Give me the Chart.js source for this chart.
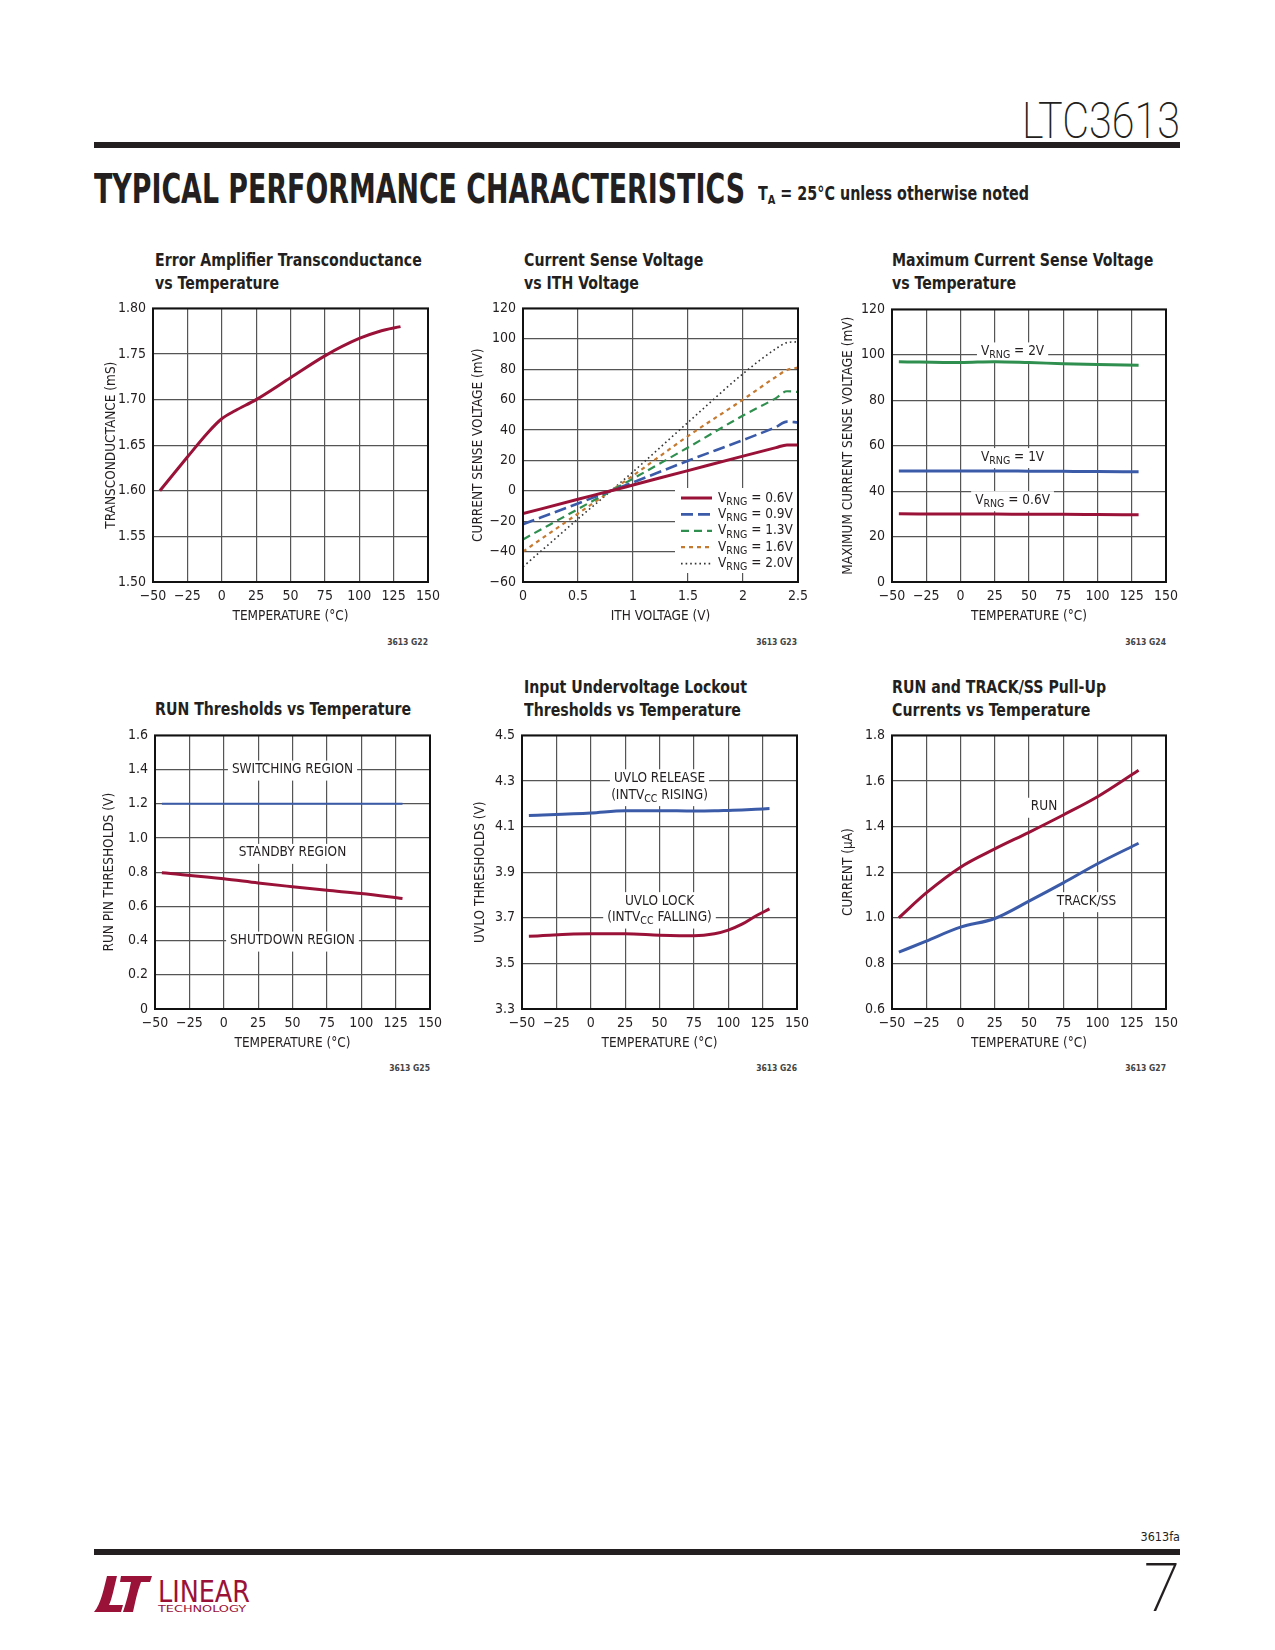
<!DOCTYPE html>
<html>
<head>
<meta charset="utf-8">
<title>LTC3613 Typical Performance Characteristics</title>
<script src="https://cdn.jsdelivr.net/npm/chart.js@4.4.1/dist/chart.umd.min.js"></script>
<style>
  body { margin: 0; background: #fff; }
  #page { position: relative; width: 1275px; height: 1650px; overflow: hidden;
          font-family: "Liberation Sans Narrow", "DejaVu Sans Condensed", sans-serif; color: #231f20; }
  .abs { position: absolute; white-space: nowrap; }
  .rule { position: absolute; left: 94px; width: 1086px; height: 6px; background: #231f20; }
  .ctitle { position: absolute; font-weight: bold; font-size: 18.5px; line-height: 23px; white-space: nowrap;
            transform: scaleX(0.85); transform-origin: left top; }
  .gid { position: absolute; font-size: 8.5px; font-weight: bold; line-height: 10px; white-space: nowrap; color: #444; }
  canvas { position: absolute; }
</style>
</head>
<body>
<div id="page">
  <div class="abs" id="partno" style="right:95px; top:96px; font-family:'DejaVu Sans ExtraLight',Roboto; font-weight:200; font-size:50px; line-height:50px; transform-origin:right center;">LTC3613</div>
  <div class="rule" style="top:142px;"></div>
  <div class="abs" id="heading" style="left:94px; top:169px; font-family:'DejaVu Sans Condensed','DejaVu Sans'; font-weight:bold; font-size:40px; line-height:40px; transform-origin:left center;">TYPICAL PERFORMANCE CHARACTERISTICS</div>
  <div class="abs" id="subhead" style="left:758px; top:184px; font-weight:bold; font-size:19px; line-height:19px; transform-origin:left center;">T<sub style="font-size:13px; vertical-align:-4px;">A</sub> = 25°C unless otherwise noted</div>

  <div class="ctitle" style="left:155px; top:248px;">Error Amplifier Transconductance<br>vs Temperature</div>
  <div class="ctitle" style="left:524px; top:248px;">Current Sense Voltage<br>vs ITH Voltage</div>
  <div class="ctitle" style="left:892px; top:248px;">Maximum Current Sense Voltage<br>vs Temperature</div>
  <div class="ctitle" style="left:155px; top:697px;">RUN Thresholds vs Temperature</div>
  <div class="ctitle" style="left:524px; top:675px;">Input Undervoltage Lockout<br>Thresholds vs Temperature</div>
  <div class="ctitle" style="left:892px; top:675px;">RUN and TRACK/SS Pull-Up<br>Currents vs Temperature</div>

  <canvas id="g22"></canvas>
  <canvas id="g23"></canvas>
  <canvas id="g24"></canvas>
  <canvas id="g25"></canvas>
  <canvas id="g26"></canvas>
  <canvas id="g27"></canvas>

  <div class="gid" style="right:847px; top:637px;">3613 G22</div>
  <div class="gid" style="right:478px; top:637px;">3613 G23</div>
  <div class="gid" style="right:109px; top:637px;">3613 G24</div>
  <div class="gid" style="right:845px; top:1063px;">3613 G25</div>
  <div class="gid" style="right:478px; top:1063px;">3613 G26</div>
  <div class="gid" style="right:109px; top:1063px;">3613 G27</div>

  <div class="abs" style="right:95px; top:1530px; font-size:12.5px; line-height:14px;">3613fa</div>
  <div class="rule" style="top:1549px;"></div>
  <div class="abs" style="right:95px; top:1556px; font-family:'DejaVu Sans ExtraLight',Roboto; font-weight:200; font-size:66px; line-height:66px;">7</div>
  <svg class="abs" style="left:92px; top:1574px;" width="175" height="40" viewBox="0 0 175 40">
    <path d="M2 38 C9 30 12 14 15 2 L25 2 C22 14 20 25 17 31 L31 31 L29 38 Z" fill="#9b1239"/>
    <path d="M29 2 L60 2 L58 8 L49 8 C45 18 43 29 41 38 L31 38 C34 29 37 18 39 8 L28 8 Z" fill="#9b1239"/>
    <text x="66" y="28" font-family="Liberation Sans Narrow, DejaVu Sans Condensed" font-size="31" fill="#9b1239" textLength="92" lengthAdjust="spacingAndGlyphs">LINEAR</text>
    <text x="66" y="38" font-family="Liberation Sans Narrow, DejaVu Sans Condensed" font-size="9.5" fill="#9b1239" textLength="88" lengthAdjust="spacingAndGlyphs">TECHNOLOGY</text>
  </svg>
</div>

<script>
// ---- values ----

// G22: error amplifier transconductance (mS) vs temperature
const gmTemp  = [-45, -25, -10, 0, 10, 25, 50, 75, 100, 115, 130];
const gmValue = [1.600, 1.637, 1.664, 1.679, 1.688, 1.700, 1.724, 1.748, 1.767, 1.775, 1.780];

// G23: current sense voltage (mV) vs ITH voltage
const ithVolts = [0, 0.5, 0.8, 1.0, 1.5, 2.0, 2.3, 2.4, 2.5];
const sense06V = [-15, -5.6, 0, 3.8, 13.3, 22.8, 28.4, 30.2, 30.2];
const sense09V = [-22, -8.3, 0, 5.5, 19.8, 33.4, 42, 45.5, 45];
const sense13V = [-32, -12, 0, 8, 28.5, 49.5, 61, 65.5, 65];
const sense16V = [-40, -15, 0, 10, 36, 60, 75, 79.5, 81];
const sense20V = [-50, -18.5, 0, 12.5, 45, 77, 93.5, 97.5, 98];
const senseLabels = ['0.6V', '0.9V', '1.3V', '1.6V', '2.0V'];

// G24: maximum current sense voltage (mV) vs temperature
const maxTemp = [-45, 0, 25, 50, 75, 100, 130];
const max2V   = [97.0, 96.6, 97.0, 96.6, 96.1, 95.7, 95.4];
const max1V   = [48.9, 48.9, 48.9, 48.8, 48.7, 48.6, 48.5];
const max06V  = [30.0, 29.9, 29.9, 29.8, 29.8, 29.7, 29.6];

// G25: RUN pin thresholds (V)
const runTemp = [-45, 0, 25, 50, 75, 100, 130];
const runOn   = [1.2, 1.2, 1.2, 1.2, 1.2, 1.2, 1.2];
const runOff  = [0.797, 0.762, 0.737, 0.715, 0.694, 0.675, 0.646];

// G26: UVLO thresholds (V)
const uvloTemp    = [-45, 0, 25, 50, 75, 90, 100, 110, 120, 130];
const uvloRelease = [4.149, 4.160, 4.170, 4.170, 4.168, 4.169, 4.171, 4.173, 4.176, 4.179];
const uvloLock    = [3.619, 3.630, 3.630, 3.624, 3.621, 3.630, 3.646, 3.672, 3.708, 3.739];

// G27: pull-up currents (uA)
const pullTemp     = [-45, -25, 0, 25, 50, 75, 100, 130];
const runCurrent   = [1.000, 1.109, 1.222, 1.302, 1.375, 1.451, 1.531, 1.647];
const trackCurrent = [0.849, 0.898, 0.959, 0.997, 1.073, 1.153, 1.237, 1.327];

// tick labels
const tempTicks  = [-50, -25, 0, 25, 50, 75, 100, 125, 150];
const gmTicks    = [1.50, 1.55, 1.60, 1.65, 1.70, 1.75, 1.80];
const ithTicks   = [0, 0.5, 1, 1.5, 2, 2.5];
const senseTicks = [-60, -40, -20, 0, 20, 40, 60, 80, 100, 120];
const maxTicks   = [0, 20, 40, 60, 80, 100, 120];
const runTicks   = [0, 0.2, 0.4, 0.6, 0.8, 1.0, 1.2, 1.4, 1.6];
const uvloTicks  = [3.3, 3.5, 3.7, 3.9, 4.1, 4.3, 4.5];
const pullTicks  = [0.6, 0.8, 1.0, 1.2, 1.4, 1.6, 1.8];

// ---- styling ----
const FONT = '"Liberation Sans Narrow", "DejaVu Sans Condensed", sans-serif';
const INK = '#231f20';
const GRID = '#555555';
const RED = '#9b1239';
const BLUE = '#3b5ba9';
const GREEN = '#2f8f4e';
const ORANGE = '#c57a32';
const DOTS = '#333333';

const minus = s => String(s).replace('-', '\u2212');
const intFmt = v => minus(Math.round(v));
const fix1 = v => v === 0 ? '0' : v.toFixed(1);

function pts(xs, ys) {
    return xs.map((x, i) => ({ x: x, y: ys[i] }));
}

function fontStr(size) {
    return size + 'px ' + FONT;
}

// text with subscripts: parts = [[text, isSub], ...]
function richWidth(ctx, parts, size) {
    let w = 0;
    for (const [t, sub] of parts) {
        ctx.font = fontStr(sub ? size * 0.78 : size);
        w += ctx.measureText(t).width;
    }
    return w;
}

function drawRich(ctx, parts, x, y, size, align) {
    const w = richWidth(ctx, parts, size);
    let cx = align === 'left' ? x : x - w / 2;
    ctx.textAlign = 'left';
    ctx.textBaseline = 'middle';
    for (const [t, sub] of parts) {
        ctx.font = fontStr(sub ? size * 0.78 : size);
        ctx.fillText(t, cx, sub ? y + size * 0.3 : y);
        cx += ctx.measureText(t).width;
    }
}

const framePlugin = {
    id: 'frame',
    afterDraw(chart) {
        const { ctx, chartArea: a } = chart;
        ctx.save();
        ctx.strokeStyle = '#111';
        ctx.lineWidth = 2;
        ctx.strokeRect(a.left, a.top, a.right - a.left, a.bottom - a.top);
        ctx.restore();
    }
};

// curve labels, placed in data units, white box behind them
function notesPlugin(notes) {
    return {
        id: 'notes',
        beforeDatasetsDraw(chart) {
            const ctx = chart.ctx, sx = chart.scales.x, sy = chart.scales.y;
            ctx.save();
            for (const n of notes) {
                const px = sx.getPixelForValue(n.x), py = sy.getPixelForValue(n.y);
                const w = richWidth(ctx, n.text, 13.5);
                ctx.fillStyle = '#fff';
                ctx.fillRect(px - w / 2 - 4, py - 9, w + 8, 20);
                ctx.fillStyle = INK;
                drawRich(ctx, n.text, px, py, 13.5);
            }
            ctx.restore();
        }
    };
}

const senseLegend = {
    id: 'senseLegend',
    afterDatasetsDraw(chart) {
        const { ctx, chartArea: a } = chart;
        const left = a.right - 123, top = a.bottom - 94;
        ctx.save();
        ctx.fillStyle = '#fff';
        ctx.fillRect(left, top, 123, 85);
        chart.data.datasets.forEach((ds, i) => {
            const y = top + 10 + i * 16.4;
            ctx.strokeStyle = ds.borderColor;
            ctx.lineWidth = ds.borderWidth;
            ctx.setLineDash(ds.borderDash || []);
            ctx.beginPath();
            ctx.moveTo(left + 6, y);
            ctx.lineTo(left + 37, y);
            ctx.stroke();
            ctx.setLineDash([]);
            ctx.fillStyle = INK;
            drawRich(ctx, [['V'], ['RNG', true], [' = ' + senseLabels[i]]], left + 43, y, 13.5, 'left');
        });
        ctx.restore();
    }
};

function axis(ticks, fmt, title, dir, size) {
    return {
        type: 'linear',
        min: ticks[0],
        max: ticks[ticks.length - 1],
        afterBuildTicks: s => { s.ticks = ticks.map(v => ({ value: v })); },
        afterFit: s => { if (dir === 'x') s.height = size; else s.width = size; },
        grid: { color: GRID, lineWidth: 1.2, drawTicks: false },
        border: { display: false },
        ticks: {
            color: INK,
            font: { family: FONT, size: 14 },
            padding: dir === 'x' ? 6 : 7,
            autoSkip: false,
            maxRotation: 0,
            callback: v => fmt(v)
        },
        title: { display: true, text: title, color: INK, font: { family: FONT, size: 13.5 }, padding: 0 }
    };
}

function line(data, color, width, dash) {
    return {
        data: data,
        borderColor: color,
        borderWidth: width,
        borderDash: dash || [],
        fill: false,
        pointRadius: 0,
        cubicInterpolationMode: 'monotone'
    };
}

// plot = [left, top, right, bottom] of the plotting box on the page
function makeChart(id, plot, opts) {
    const [l, t, r, b] = plot;
    const padL = 62, padT = 14, padR = 30, padB = 46;
    const cv = document.getElementById(id);
    const w = r - l + padL + padR, h = b - t + padT + padB;
    cv.width = w;
    cv.height = h;
    cv.style.left = (l - padL) + 'px';
    cv.style.top = (t - padT) + 'px';
    cv.style.width = w + 'px';
    cv.style.height = h + 'px';
    const yW = (opts.yGap || 44) + 8.1;
    const xH = 34 + 8.1;
    return new Chart(cv, {
        type: 'line',
        data: { datasets: opts.datasets },
        options: {
            responsive: false,
            animation: false,
            devicePixelRatio: 1,
            layout: { padding: { left: padL - yW, top: padT, right: padR, bottom: padB - xH } },
            plugins: { legend: { display: false }, tooltip: { enabled: false } },
            scales: {
                x: axis(opts.xTicks, opts.xFmt, opts.xTitle, 'x', xH),
                y: axis(opts.yTicks, opts.yFmt, opts.yTitle, 'y', yW)
            }
        },
        plugins: [framePlugin, notesPlugin(opts.notes || [])].concat(opts.extra || [])
    });
}

const vrng = s => [['V'], ['RNG', true], [' = ' + s]];

makeChart('g22', [153, 307, 428, 582], {
    xTicks: tempTicks, xFmt: intFmt, xTitle: 'TEMPERATURE (°C)',
    yTicks: gmTicks, yFmt: v => v.toFixed(2), yTitle: 'TRANSCONDUCTANCE (mS)', yGap: 42,
    datasets: [line(pts(gmTemp, gmValue), RED, 3)]
});

makeChart('g23', [523, 307, 798, 582], {
    xTicks: ithTicks, xFmt: v => String(v), xTitle: 'ITH VOLTAGE (V)',
    yTicks: senseTicks, yFmt: intFmt, yTitle: 'CURRENT SENSE VOLTAGE (mV)', yGap: 45,
    datasets: [
        line(pts(ithVolts, sense06V), RED, 3),
        line(pts(ithVolts, sense09V), BLUE, 2.6, [12, 5]),
        line(pts(ithVolts, sense13V), GREEN, 2.2, [8, 5]),
        line(pts(ithVolts, sense16V), ORANGE, 2.2, [4, 4]),
        line(pts(ithVolts, sense20V), DOTS, 1.6, [1.6, 3])
    ],
    extra: [senseLegend]
});

makeChart('g24', [892, 308, 1166, 582], {
    xTicks: tempTicks, xFmt: intFmt, xTitle: 'TEMPERATURE (°C)',
    yTicks: maxTicks, yFmt: intFmt, yTitle: 'MAXIMUM CURRENT SENSE VOLTAGE (mV)', yGap: 44,
    datasets: [
        line(pts(maxTemp, max2V), GREEN, 3),
        line(pts(maxTemp, max1V), BLUE, 3),
        line(pts(maxTemp, max06V), RED, 3)
    ],
    notes: [
        { x: 38, y: 101.5, text: vrng('2V') },
        { x: 38, y: 55, text: vrng('1V') },
        { x: 38, y: 36, text: vrng('0.6V') }
    ]
});

makeChart('g25', [155, 734, 430, 1009], {
    xTicks: tempTicks, xFmt: intFmt, xTitle: 'TEMPERATURE (°C)',
    yTicks: runTicks, yFmt: fix1, yTitle: 'RUN PIN THRESHOLDS (V)', yGap: 46,
    datasets: [
        line(pts(runTemp, runOn), BLUE, 2),
        line(pts(runTemp, runOff), RED, 3)
    ],
    notes: [
        { x: 50, y: 1.4, text: [['SWITCHING REGION']] },
        { x: 50, y: 0.913, text: [['STANDBY REGION']] },
        { x: 50, y: 0.4, text: [['SHUTDOWN REGION']] }
    ]
});

makeChart('g26', [522, 734, 797, 1009], {
    xTicks: tempTicks, xFmt: intFmt, xTitle: 'TEMPERATURE (°C)',
    yTicks: uvloTicks, yFmt: v => v.toFixed(1), yTitle: 'UVLO THRESHOLDS (V)', yGap: 42,
    datasets: [
        line(pts(uvloTemp, uvloRelease), BLUE, 3),
        line(pts(uvloTemp, uvloLock), RED, 3)
    ],
    notes: [
        { x: 50, y: 4.312, text: [['UVLO RELEASE']] },
        { x: 50, y: 4.238, text: [['(INTV'], ['CC', true], [' RISING)']] },
        { x: 50, y: 3.773, text: [['UVLO LOCK']] },
        { x: 50, y: 3.701, text: [['(INTV'], ['CC', true], [' FALLING)']] }
    ]
});

makeChart('g27', [892, 734, 1166, 1009], {
    xTicks: tempTicks, xFmt: intFmt, xTitle: 'TEMPERATURE (°C)',
    yTicks: pullTicks, yFmt: fix1, yTitle: 'CURRENT (µA)', yGap: 44,
    datasets: [
        line(pts(pullTemp, runCurrent), RED, 3),
        line(pts(pullTemp, trackCurrent), BLUE, 3)
    ],
    notes: [
        { x: 61, y: 1.487, text: [['RUN']] },
        { x: 92, y: 1.073, text: [['TRACK/SS']] }
    ]
});

// squeeze the header lettering to the widths used in the datasheet
function fitWidth(id, target) {
    const el = document.getElementById(id);
    el.style.transform = 'scaleX(' + (target / el.getBoundingClientRect().width) + ')';
}
fitWidth('heading', 651);
fitWidth('subhead', 271);
fitWidth('partno', 158);
</script>
</body>
</html>
